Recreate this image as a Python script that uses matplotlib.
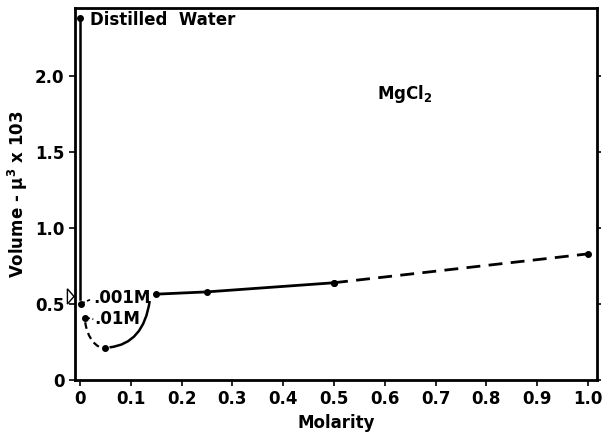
import matplotlib
matplotlib.use("Agg")
import matplotlib.pyplot as plt
from matplotlib.path import Path
from matplotlib.patches import PathPatch, Polygon

plt.rcParams['font.family'] = ['DejaVu Sans']
plt.rcParams['font.weight'] = 'bold'

# measured points (molarity, volume x 10^3)
water_x = [0.0]
water_y = [2.38]
low_x = [0.001, 0.01, 0.05]
low_y = [0.50, 0.41, 0.21]
solid_x = [0.15, 0.25, 0.5]
solid_y = [0.565, 0.58, 0.64]
dash_x = [0.5, 1.0]
dash_y = [0.64, 0.83]

# drop from distilled water down to the .001M value
drop_x = [0.0, 0.0]
drop_y = [2.38, 0.53]

# hand drawn curve through the low concentration points
curve_left = [(0.01, 0.38), (0.016, 0.25), (0.042, 0.21)]
curve_right = [(0.058, 0.215), (0.125, 0.24), (0.137, 0.52)]

xticks = [0, 0.1, 0.2, 0.3, 0.4, 0.5, 0.6, 0.7, 0.8, 0.9, 1.0]
xtick_labels = ['0', '0.1', '0.2', '0.3', '0.4', '0.5', '0.6', '0.7', '0.8', '0.9', '1.0']
yticks = [0, 0.5, 1.0, 1.5, 2.0]
ytick_labels = ['0', '0.5', '1.0', '1.5', '2.0']

fig = plt.figure(figsize=(6.05, 4.44), dpi=100)
ax = fig.add_axes([0.124, 0.144, 0.863, 0.838])

ax.plot(drop_x, drop_y, color='black', lw=1.8, clip_on=False)
ax.plot(water_x, water_y, 'o', color='black', ms=4)
ax.plot(low_x, low_y, 'o', color='black', ms=4)
ax.plot(solid_x, solid_y, '-o', color='black', ms=4, lw=2)
ax.plot(dash_x, dash_y, '--o', color='black', ms=4, lw=2, dashes=(5, 3))

codes = [Path.MOVETO, Path.CURVE3, Path.CURVE3]
ax.add_patch(PathPatch(Path(curve_left, codes), fill=False, lw=1.6,
                       ls=(0, (3, 2)), edgecolor='black'))
ax.add_patch(PathPatch(Path(curve_right, codes), fill=False, lw=1.8,
                       edgecolor='black'))

# leaders to the labels
ax.plot([0.003, 0.024], [0.505, 0.535], ls=(0, (2, 1.5)), color='black', lw=1.2)
ax.plot([0.013, 0.026], [0.41, 0.40], ls=(0, (2, 1.5)), color='black', lw=1.2)
ax.text(0.025, 0.54, '.001M', fontsize=12, fontweight='bold', va='center')
ax.text(0.028, 0.40, '.01M', fontsize=12, fontweight='bold', va='center')

# open triangle on the y axis
ax.add_patch(Polygon([(-0.025, 0.50), (-0.025, 0.60), (-0.012, 0.55)],
                     closed=True, fill=False, edgecolor='black', lw=1,
                     clip_on=False))

ax.text(0.02, 2.37, 'Distilled  Water', fontsize=12, fontweight='bold', va='center')
ax.text(0.585, 1.88, 'MgCl$_\\mathbf{2}$', fontsize=12, fontweight='bold', va='center')

ax.set_xlim(-0.01, 1.018)
ax.set_ylim(0, 2.447)
ax.set_xticks(xticks)
ax.set_xticklabels(xtick_labels)
ax.set_yticks(yticks)
ax.set_yticklabels(ytick_labels)
ax.tick_params(labelsize=12, width=1.2, length=4)
ax.tick_params(axis='y', right=True, direction='out')
for t in ax.yaxis.get_ticklines()[1::2]:
    t.set_markersize(3)
ax.set_xlabel('Molarity', fontsize=12, fontweight='bold')
ax.set_ylabel('Volume - $\\mathbf{\\mu^3}$ x 103', fontsize=12, fontweight='bold')
for s in ax.spines.values():
    s.set_linewidth(2)

fig.savefig('out.png', dpi=100)
